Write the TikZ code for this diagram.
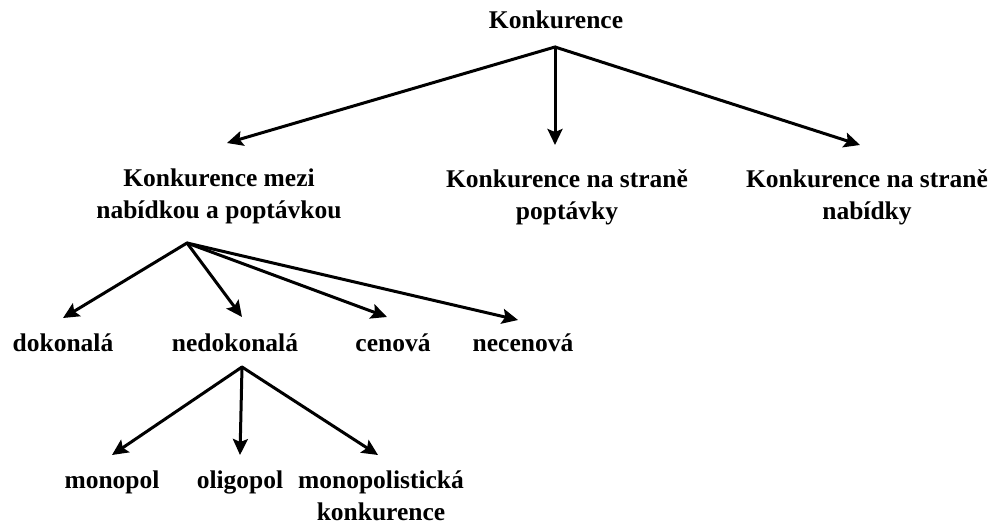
\documentclass[tikz,border=0pt]{standalone}
\usepackage{fontspec}
\setmainfont{Liberation Serif}
\usetikzlibrary{arrows.meta}
\begin{document}
\begin{tikzpicture}[x=1pt,y=-1pt,
  lbl/.style={font=\bfseries\fontsize{25.5}{32}\selectfont, inner sep=0pt, anchor=base, align=center},
  arr/.style={line width=3pt, line cap=round, -{Stealth[length=16pt,width=15pt,inset=3pt]}}]
\useasboundingbox (0,0) rectangle (1004,527);
% labels (two-line nodes are placed at the baseline of their last line)
\node[lbl] (k) at (556,29) {Konkurence};
\node[lbl] (m1) at (219,218) {Konkurence mezi\\nabídkou a poptávkou};
\node[lbl] (m2) at (567,219) {Konkurence na straně\\poptávky};
\node[lbl] (m3) at (867,219) {Konkurence na straně\\nabídky};
\node[lbl] (d1) at (63,351) {dokonalá};
\node[lbl] (d2) at (235,351) {nedokonalá};
\node[lbl] (d3) at (393,351) {cenová};
\node[lbl] (d4) at (523,351) {necenová};
\node[lbl] (o1) at (112,488) {monopol};
\node[lbl] (o2) at (240,488) {oligopol};
\node[lbl] (o3) at (381,520) {monopolistická\\konkurence};
% apexes and tips
\coordinate (a0) at (555,47);
\coordinate (a1) at (187,243);
\coordinate (a2) at (242,367);
\coordinate (t1) at (227,143);
\coordinate (t2) at (555,145);
\coordinate (t3) at (860,145);
\coordinate (u1) at (63,318);
\coordinate (u2) at (242,317);
\coordinate (u3) at (387,317);
\coordinate (u4) at (518,320);
\coordinate (v1) at (112,455);
\coordinate (v2) at (240,455);
\coordinate (v3) at (378,455);
% arrows
\draw[arr] (a0) -- (t1);
\draw[arr] (a0) -- (t2);
\draw[arr] (a0) -- (t3);
\draw[arr] (a1) -- (u1);
\draw[arr] (a1) -- (u2);
\draw[arr] (a1) -- (u3);
\draw[arr] (a1) -- (u4);
\draw[arr] (a2) -- (v1);
\draw[arr] (a2) -- (v2);
\draw[arr] (a2) -- (v3);
\end{tikzpicture}
\end{document}
